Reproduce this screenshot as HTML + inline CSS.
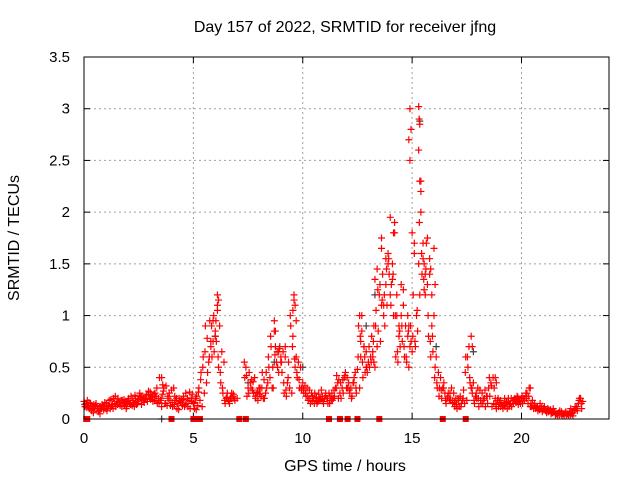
<!DOCTYPE html>
<html><head><meta charset="utf-8"><style>
html,body{margin:0;padding:0;background:#fff;}
svg{display:block;font-family:"Liberation Sans",sans-serif;}
</style></head><body>
<svg id="chart" width="640" height="480" viewBox="0 0 640 480" xmlns="http://www.w3.org/2000/svg">
<rect width="640" height="480" fill="#fff"/>
<text x="345" y="32" font-size="16" text-anchor="middle">Day 157 of 2022, SRMTID for receiver jfng</text>
<text x="345" y="471" font-size="16" text-anchor="middle">GPS time / hours</text>
<text transform="translate(19,238) rotate(-90)" font-size="16" text-anchor="middle">SRMTID / TECUs</text>
<g id="grid"></g><g id="ticks"></g><g id="marks"></g>
<rect x="84" y="57" width="525" height="362" fill="none" stroke="#000" stroke-width="1"/>
</svg>
<script>
const xTicks=[0,5,10,15,20];
const yTicks=[0,0.5,1,1.5,2,2.5,3,3.5];
const yTickLabels=["0","0.5","1","1.5","2","2.5","3","3.5"];
const seriesA=[0.17,0.15,0.13,0.15,0.12,0.1,0.12,0.08,0.1,0.09,0.1,
0.12,0.1,0.14,0.15,0.17,0.16,0.18,0.15,0.16,0.17,
0.15,0.13,0.12,0.14,0.19,0.21,0.18,0.2,0.17,0.2,
0.22,0.24,0.22,0.2,0.18,0.24,0.15,0.13,0.25,0.28,
0.3,0.18,0.15,0.17,0.13,0.12,0.15,0.18,0.2,0.15,
0.2,0.13,0.18,0.12,0.25,0.35,0.55,0.7,0.75,0.8,
1.1,0.9,0.65,0.55,0.2,0.18,0.2,0.22,0.18,0.2,
null,null,null,0.5,0.3,0.35,0.28,0.4,0.25,0.3,
0.22,0.2,0.25,0.35,0.4,0.3,0.85,0.55,0.45,0.6,
0.65,0.6,0.35,0.3,0.25,1.15,0.6,0.55,0.5,0.35,
0.32,0.3,0.28,0.25,0.2,0.18,0.17,0.2,0.22,0.2,
0.2,0.25,0.18,0.2,0.3,0.35,0.25,0.3,0.4,0.3,
0.35,0.3,0.35,0.45,0.48,0.3,1.0,0.7,0.5,0.55,
0.6,0.65,0.5,0.7,1.2,1.1,1.0,1.3,1.6,1.2,
1.5,1.8,1.2,0.8,1.0,1.1,0.9,0.8,0.7,0.65,
1.7,1.0,1.5,2.3,1.7,1.2,1.3,1.4,0.9,1.0,
0.6,0.45,0.4,0.3,0.25,0.2,0.18,0.3,0.25,0.2,
0.2,0.22,0.18,0.15,0.18,0.7,0.3,0.35,0.22,0.3,
0.28,0.25,0.2,0.22,0.3,0.35,0.4,0.2,0.18,0.16,
0.15,0.14,0.16,0.2,0.15,0.18,0.2,0.22,0.17,0.2,
0.2,0.25,0.15,0.12,0.18,0.15,0.12,0.1,0.1,0.1,
0.08,0.1,0.08,0.06,0.07,0.05,0.06,0.05,0.05,0.06,
0.05,0.06,0.05,0.08,0.1,0.15,0.2,0.17];
const seriesB=[0.12,0.18,0.1,0.08,0.14,0.15,0.07,0.12,0.13,0.16,
0.08,0.18,0.12,0.2,0.12,0.2,0.13,0.18,0.13,0.12,
0.18,0.22,0.16,0.2,0.15,0.25,0.22,0.16,0.24,0.27,
0.19,0.17,0.25,0.15,0.4,0.12,0.3,0.32,0.2,0.13,
0.12,0.22,0.1,0.2,0.18,0.22,0.25,0.12,0.1,0.24,
0.1,0.22,0.3,0.45,0.6,0.9,0.45,0.95,0.6,0.65,
0.75,0.5,0.35,0.25,0.15,0.25,0.15,0.25,0.2,null,
null,null,null,0.4,0.22,0.45,0.38,0.25,0.2,0.18,
0.3,0.45,0.2,0.3,0.5,0.7,0.3,0.7,0.5,0.7,
0.45,0.25,0.22,0.55,0.9,0.8,0.5,0.4,0.3,0.28,
0.25,0.22,0.18,0.15,0.22,0.25,0.15,0.18,0.28,0.15,
0.25,0.15,0.22,0.18,0.22,0.42,0.38,0.2,0.25,0.45,
0.3,0.25,0.22,0.4,0.25,0.9,0.6,0.4,0.45,0.45,
0.5,0.8,0.9,1.05,0.85,0.75,1.4,0.9,1.1,1.4,
1.3,1.0,0.6,0.55,0.7,0.75,0.6,0.55,0.5,0.75,
1.2,0.7,0.85,1.2,1.4,1.5,1.7,0.8,0.6,0.65,
0.5,0.3,0.3,0.2,0.35,0.15,0.25,0.18,0.15,0.12,
0.1,0.12,0.15,0.28,0.6,0.5,0.35,0.25,0.15,0.2,
0.12,0.15,0.18,0.12,0.15,0.22,0.12,0.3,0.1,0.12,
0.12,0.1,0.12,0.1,0.14,0.12,0.18,0.16,0.14,0.15,
0.15,0.2,0.25,0.3,0.12,0.1,0.1,0.08,0.15,0.07,
0.12,0.06,0.09,0.05,0.1,0.04,0.04,0.08,0.04,0.03,
0.04,0.04,0.1,0.03,0.12,0.08,0.2,0.1];
const seriesC=[0.14,0.11,0.16,0.09,0.06,0.13,0.1,0.05,0.14,0.12,
0.15,0.13,0.19,0.1,0.22,0.14,0.16,0.12,0.19,0.1,
0.2,0.14,0.18,0.23,0.17,0.22,0.14,0.2,0.19,0.23,
0.26,0.21,0.18,0.3,0.16,0.2,0.27,0.15,0.22,0.18,
0.16,0.14,0.2,0.09,0.16,0.19,0.14,0.2,0.26,0.17,
0.16,0.09,0.26,0.38,0.5,0.65,0.78,0.6,0.9,1.0,
0.95,0.6,0.45,0.3,0.18,0.21,0.17,0.2,0.24,null,
null,null,null,0.55,0.42,0.25,0.3,0.36,0.22,0.26,
0.24,0.3,0.38,0.45,0.6,0.8,0.5,0.62,0.65,0.68,
0.55,0.35,0.28,0.4,1.0,0.7,0.58,0.45,0.38,0.3,
0.28,0.25,0.22,0.2,0.17,0.15,0.21,0.24,0.19,0.17,
0.22,0.2,0.15,0.25,0.28,0.3,0.2,0.35,0.38,0.42,
0.4,0.28,0.2,0.35,0.3,0.6,0.8,0.55,0.6,0.5,
0.7,0.55,0.75,0.9,1.25,1.3,1.15,1.2,1.45,1.55,
1.1,1.4,1.0,0.65,0.85,0.9,0.7,0.6,0.85,0.9,
0.8,0.75,1.05,1.9,1.6,1.35,1.45,1.0,0.75,0.8,
0.4,0.35,0.22,0.28,0.3,0.18,0.22,0.25,0.18,0.16,
0.14,0.18,0.12,0.2,0.45,0.6,0.4,0.3,0.18,0.25,
0.2,0.18,0.15,0.28,0.22,0.4,0.32,0.15,0.14,0.2,
0.18,0.13,0.2,0.17,0.12,0.2,0.15,0.19,0.21,0.18,
0.22,0.18,0.2,0.22,0.15,0.13,0.11,0.12,0.09,0.12,
0.1,0.08,0.07,0.09,0.06,0.07,0.05,0.04,0.07,0.05,
0.07,0.05,0.04,0.06,0.09,0.12,0.18,0.15];
const extraTimes=[14.9,14.95,14.85,14.9,15.3,15.32,15.35,15.3,15.35,15.4,15.4,14.0,14.2,14.15,13.6,13.6,15.0,15.1,15.7,15.8,16.0,13.9,6.1,6.15,6.1,5.9,9.6,9.65,9.7,8.7,8.75,12.6,12.7,17.7,17.75,14.8,14.85,13.4,13.3,14.5,14.6,15.6,15.9,12.65,5.8,6.0,9.55,18.8,18.85,20.4,3.55,3.6,13.2,13.25,13.7,14.3,14.4,15.5,15.55,16.05,15.85,14.1,13.8,12.8,12.9,9.2,9.0,8.9];
const extraValues=[3.0,2.8,2.7,2.5,3.02,2.9,2.85,2.6,2.3,2.2,2.0,1.95,1.9,1.8,1.75,1.65,1.8,1.6,1.75,1.55,1.65,1.5,1.2,1.15,1.05,0.95,1.2,1.1,0.95,0.95,0.85,1.0,0.85,0.8,0.7,1.0,0.9,1.45,1.35,1.3,1.25,1.4,1.2,0.75,0.75,0.85,1.05,0.4,0.35,0.3,0.4,0.33,0.6,0.55,1.1,1.0,0.9,1.55,1.25,1.3,1.45,1.35,1.55,0.7,0.65,0.7,0.55,0.65];
const grayTimes=[15.35,13.3,6.0,8.7,12.9,16.1,17.8,10.0,3.55,7.5];
const grayValues=[2.88,1.2,0.8,0.55,0.9,0.7,0.65,0.5,0,0.35];
const zeroTimes=[0.1,0.15,4.0,5.0,5.1,5.2,5.3,7.1,7.4,11.2,11.7,12.05,12.5,13.5,16.4,17.45];

const X0=84,X1=609,Y0=419,Y1=57,XMAX=24,YMAX=3.5;
const sx=v=>X0+(X1-X0)*v/XMAX;
const sy=v=>Y0-(Y0-Y1)*v/YMAX;
const NS="http://www.w3.org/2000/svg";
function mk(tag,parent){const e=document.createElementNS(NS,tag);parent.appendChild(e);return e;}
const grid=document.getElementById('grid'),ticks=document.getElementById('ticks'),marks=document.getElementById('marks');
xTicks.forEach(t=>{
  const x=sx(t);
  if(t>0){const g=mk('line',grid);
  
  
  g.setAttribute('x1',x);g.setAttribute('x2',x);g.setAttribute('y1',Y1);g.setAttribute('y2',Y0);
  g.setAttribute('stroke','#a0a0a0');g.setAttribute('stroke-dasharray','2,3');}
  [[Y0,Y0-6],[Y1,Y1+6]].forEach(p=>{const l=mk('line',ticks);
  
  
  l.setAttribute('x1',x);l.setAttribute('x2',x);l.setAttribute('y1',p[0]);l.setAttribute('y2',p[1]);l.setAttribute('stroke','#000');});
  const tx=mk('text',ticks);
  
  
  tx.setAttribute('x',x);tx.setAttribute('y',443);tx.setAttribute('font-size','15');tx.setAttribute('text-anchor','middle');tx.textContent=String(t);
});
yTicks.forEach((t,i)=>{
  const y=sy(t);
  if(t>0&&t<YMAX){const g=mk('line',grid);
  
  
  g.setAttribute('x1',X0);g.setAttribute('x2',X1);g.setAttribute('y1',y);g.setAttribute('y2',y);
  g.setAttribute('stroke','#a0a0a0');g.setAttribute('stroke-dasharray','2,3');}
  [[X0,X0+6],[X1,X1-6]].forEach(p=>{const l=mk('line',ticks);
  
  
  l.setAttribute('x1',p[0]);l.setAttribute('x2',p[1]);l.setAttribute('y1',y);l.setAttribute('y2',y);l.setAttribute('stroke','#000');});
  const tx=mk('text',ticks);
  
  
  tx.setAttribute('x',70);tx.setAttribute('y',y+5);tx.setAttribute('font-size','15');tx.setAttribute('text-anchor','end');tx.textContent=yTickLabels[i];
});
function plus(t,v,color,name){
  const x=sx(t),y=sy(v);
  const p=mk('path',marks);
  
  
  p.setAttribute('d',`M${x-3.5},${y}H${x+3.5}M${x},${y-3.5}V${y+3.5}`);
  p.setAttribute('stroke',color);p.setAttribute('stroke-width','1.2');p.setAttribute('fill','none');
}
grayTimes.forEach((t,i)=>plus(t,grayValues[i],'#404040','gray-point'));
seriesA.forEach((v,i)=>{if(v!==null)plus(i*0.1,v,'#ff0000','series-a-point');});
seriesB.forEach((v,i)=>{if(v!==null)plus(0.05+i*0.1,v,'#ff0000','series-b-point');});
seriesC.forEach((v,i)=>{if(v!==null)plus(0.03+i*0.1,v,'#ff0000','series-c-point');});
extraTimes.forEach((t,i)=>plus(t,extraValues[i],'#ff0000','extra-point'));
zeroTimes.forEach(t=>{
  const r=mk('rect',marks);
  
  
  r.setAttribute('x',sx(t)-3);r.setAttribute('y',Y0-3);r.setAttribute('width',6);r.setAttribute('height',6);r.setAttribute('fill','#ff0000');
});
</script>
</body></html>
